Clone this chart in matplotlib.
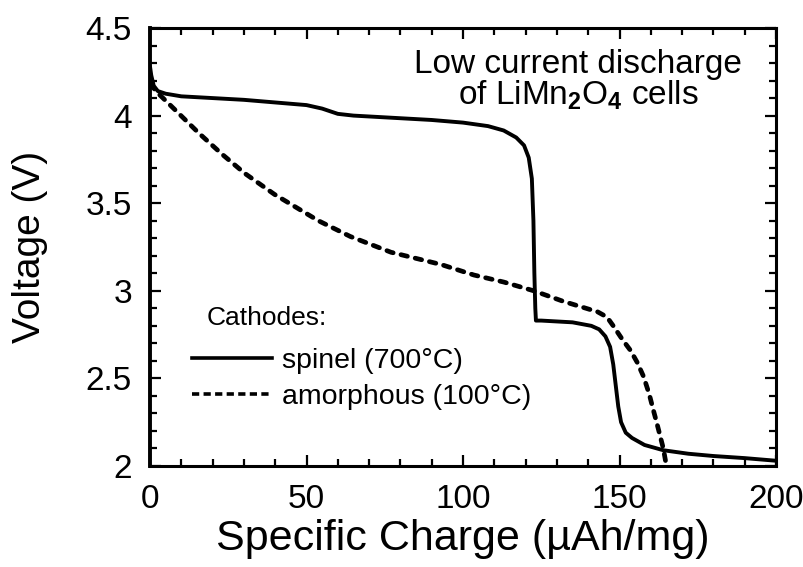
import matplotlib
matplotlib.use("Agg")
import matplotlib.pyplot as plt
from matplotlib.lines import Line2D
from matplotlib.ticker import MultipleLocator

# ---- data ----
spinel_x = [0, 0.4, 1.2, 2.5, 5, 10, 20, 30, 40, 50, 55, 60, 65, 75, 90, 100,
            108, 113, 117, 119.5, 121, 122, 122.5, 122.8, 123.1, 123.3, 125,
            135, 141, 143.5, 145.5, 147, 148, 148.8, 149.6, 150.5, 152, 154,
            158, 164, 172, 180, 190, 200]
spinel_y = [4.28, 4.23, 4.17, 4.14, 4.125, 4.11, 4.10, 4.09, 4.075, 4.06, 4.04,
            4.01, 4.00, 3.99, 3.975, 3.96, 3.94, 3.915, 3.875, 3.83, 3.76, 3.64,
            3.40, 3.10, 2.90, 2.83, 2.83, 2.82, 2.80, 2.78, 2.74, 2.68, 2.58,
            2.46, 2.34, 2.25, 2.19, 2.16, 2.12, 2.09, 2.07, 2.057, 2.045, 2.03]

amorph_x = [0, 3, 7.6, 15.6, 23, 30.3, 39.8, 53.8, 64, 77, 93, 103.5, 113,
            122.6, 132, 143, 146, 148, 151, 153.5, 155.7, 157.7, 159.5, 160.8,
            162, 163, 164, 164.7, 165]
amorph_y = [4.18, 4.12, 4.04, 3.90, 3.78, 3.67, 3.55, 3.40, 3.31, 3.22, 3.15,
            3.09, 3.05, 3.00, 2.94, 2.88, 2.85, 2.80, 2.72, 2.66, 2.59, 2.51,
            2.41, 2.32, 2.24, 2.17, 2.10, 2.03, 2.0]

x_ticks = [0, 50, 100, 150, 200]
x_tick_labels = ["0", "50", "100", "150", "200"]
y_ticks = [2, 2.5, 3, 3.5, 4, 4.5]
y_tick_labels = ["2", "2.5", "3", "3.5", "4", "4.5"]

series_labels = ["spinel (700°C)", "amorphous (100°C)"]
legend_title = "Cathodes:"
note_line1 = "Low current discharge"
note_line2 = r"of LiMn$_{\mathbf{2}}$O$_{\mathbf{4}}$ cells"

# ---- style ----
plt.rcParams["font.family"] = ["Liberation Sans", "DejaVu Sans"]
plt.rcParams["mathtext.fontset"] = "custom"
plt.rcParams["mathtext.rm"] = "Liberation Sans"
plt.rcParams["mathtext.bf"] = "Liberation Sans:bold"
plt.rcParams["mathtext.it"] = "Liberation Sans:italic"

fig = plt.figure(figsize=(8.04, 5.67), dpi=100)
ax = fig.add_axes([150 / 804, 1 - 466 / 567, 626 / 804, 438 / 567])

ax.plot(spinel_x, spinel_y, color="black", lw=2.8, solid_capstyle="round",
        solid_joinstyle="round")
ax.plot(amorph_x, amorph_y, color="black", lw=3.4, dashes=(1.4, 1.7),
        dash_capstyle="round")

ax.set_xlim(0, 200)
ax.set_ylim(2, 4.5)
ax.set_xticks(x_ticks)
ax.set_xticklabels(x_tick_labels)
ax.set_yticks(y_ticks)
ax.set_yticklabels(y_tick_labels)
ax.xaxis.set_minor_locator(MultipleLocator(10))
ax.yaxis.set_minor_locator(MultipleLocator(0.1))

for s in ax.spines.values():
    s.set_linewidth(2.2)
ax.spines["left"].set_linewidth(2.8)

ax.tick_params(which="both", direction="in", top=True, right=True,
               width=1.6, colors="black")
ax.tick_params(which="major", length=8, labelsize=24, pad=13)
ax.tick_params(which="minor", length=5)

ax.set_xlabel("Specific Charge (µAh/mg)", fontsize=31)
ax.xaxis.set_label_coords(0.5, -0.122)
ax.set_ylabel("Voltage (V)", fontsize=28)
ax.yaxis.set_label_coords(-0.163, 0.5)

ax.text(0.684, 0.953, note_line1 + "\n" + note_line2, transform=ax.transAxes,
        ha="center", va="top", multialignment="center", fontsize=24,
        linespacing=0.95)

ax.text(0.091, 0.322, legend_title, transform=ax.transAxes, ha="left",
        va="baseline", fontsize=19)

handles = [
    Line2D([], [], color="black", lw=2.6),
    Line2D([], [], color="black", lw=2.6, dashes=(2.0, 1.2)),
]
ax.legend(handles, series_labels, loc="upper left",
          bbox_to_anchor=(0.067, 0.269), frameon=False, fontsize=20.5,
          handlelength=2.8, handletextpad=0.35, labelspacing=0.36,
          borderpad=0, borderaxespad=0)

fig.savefig("out.png", dpi=100)
